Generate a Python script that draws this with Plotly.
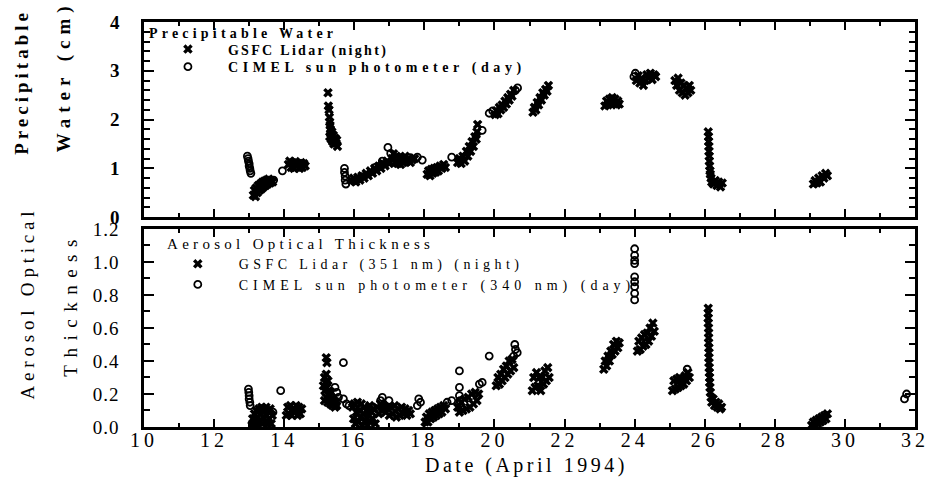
import plotly.graph_objects as go

# ---------------- data ----------------
# Precipitable water (cm): GSFC lidar, night
lidar_pw = [
    (13.12, 0.45), (13.15, 0.55), (13.18, 0.42), (13.2, 0.6), (13.23, 0.5), (13.26, 0.65), (13.29, 0.55),
    (13.32, 0.68), (13.35, 0.58), (13.38, 0.72), (13.41, 0.62), (13.44, 0.74), (13.47, 0.65), (13.5, 0.76),
    (13.53, 0.68), (13.56, 0.78), (13.6, 0.7), (13.63, 0.74), (13.67, 0.72),
    (14.12, 1.08), (14.16, 1.15), (14.2, 1.02), (14.24, 1.12), (14.28, 1.0), (14.32, 1.14), (14.36, 1.04),
    (14.4, 1.1), (14.44, 1.0), (14.48, 1.12), (14.52, 1.02), (14.56, 1.1), (14.6, 1.05),
    (15.25, 2.55), (15.26, 2.28), (15.28, 2.2), (15.29, 2.05), (15.3, 1.95), (15.31, 1.88), (15.32, 1.8),
    (15.33, 1.72), (15.3, 1.65), (15.34, 1.6), (15.36, 1.75), (15.38, 1.55), (15.4, 1.68), (15.42, 1.5),
    (15.45, 1.62), (15.48, 1.52), (15.5, 1.58), (15.52, 1.45),
    (15.92, 0.75), (15.98, 0.8), (16.04, 0.72), (16.1, 0.82), (16.16, 0.76), (16.22, 0.85), (16.28, 0.8),
    (16.34, 0.9), (16.4, 0.85), (16.46, 0.95), (16.52, 0.9), (16.58, 1.0), (16.64, 0.95), (16.7, 1.05),
    (16.76, 1.0), (16.82, 1.1), (16.88, 1.05), (16.94, 1.15), (17.0, 1.1),
    (17.08, 1.2), (17.12, 1.3), (17.16, 1.12), (17.2, 1.25), (17.24, 1.1), (17.28, 1.22), (17.32, 1.08),
    (17.36, 1.2), (17.4, 1.12), (17.45, 1.25), (17.5, 1.15), (17.55, 1.2), (17.6, 1.12), (17.66, 1.18),
    (17.72, 1.2),
    (18.08, 0.88), (18.12, 0.95), (18.16, 0.85), (18.2, 0.98), (18.24, 0.9), (18.28, 1.0), (18.32, 0.92),
    (18.36, 1.02), (18.4, 0.95), (18.45, 1.05), (18.5, 1.0), (18.55, 1.08), (18.6, 1.02),
    (18.95, 1.12), (19.0, 1.2), (19.05, 1.1), (19.1, 1.25), (19.15, 1.15), (19.2, 1.35), (19.24, 1.25),
    (19.28, 1.45), (19.32, 1.35), (19.36, 1.55), (19.4, 1.45), (19.44, 1.65), (19.48, 1.6), (19.5, 1.75),
    (19.52, 1.9),
    (20.02, 2.1), (20.06, 2.18), (20.1, 2.12), (20.14, 2.25), (20.18, 2.2), (20.22, 2.3), (20.26, 2.25),
    (20.3, 2.38), (20.34, 2.32), (20.38, 2.45), (20.42, 2.4), (20.46, 2.52), (20.5, 2.48), (20.55, 2.6),
    (21.1, 2.15), (21.14, 2.25), (21.18, 2.2), (21.22, 2.35), (21.26, 2.3), (21.3, 2.45), (21.34, 2.4),
    (21.38, 2.55), (21.42, 2.5), (21.46, 2.62), (21.5, 2.58), (21.54, 2.7),
    (23.15, 2.28), (23.2, 2.38), (23.24, 2.3), (23.28, 2.42), (23.32, 2.33), (23.36, 2.45), (23.4, 2.35),
    (23.44, 2.42), (23.48, 2.3), (23.52, 2.38), (23.56, 2.32),
    (24.05, 2.8), (24.1, 2.9), (24.15, 2.75), (24.2, 2.85), (24.25, 2.7), (24.3, 2.8), (24.35, 2.92),
    (24.4, 2.85), (24.45, 2.95), (24.5, 2.82), (24.55, 2.92), (24.6, 2.88),
    (25.15, 2.8), (25.2, 2.7), (25.24, 2.85), (25.28, 2.6), (25.32, 2.75), (25.36, 2.55), (25.4, 2.7),
    (25.44, 2.5), (25.48, 2.65), (25.52, 2.55), (25.56, 2.7), (25.6, 2.6),
    (26.1, 1.75), (26.11, 1.65), (26.11, 1.55), (26.12, 1.45), (26.12, 1.35), (26.13, 1.25), (26.13, 1.15),
    (26.14, 1.05), (26.15, 0.95), (26.16, 0.88), (26.18, 0.8), (26.2, 0.72), (26.25, 0.68), (26.3, 0.75),
    (26.35, 0.65), (26.4, 0.72), (26.45, 0.62), (26.5, 0.7),
    (29.1, 0.68), (29.15, 0.75), (29.2, 0.7), (29.25, 0.8), (29.3, 0.72), (29.35, 0.85), (29.4, 0.8),
    (29.45, 0.9), (29.5, 0.85),
]

# Precipitable water (cm): CIMEL sun photometer, day
cimel_pw = [
    (12.95, 1.25), (12.97, 1.2), (12.98, 1.15), (13.0, 1.1), (13.0, 1.05), (13.02, 1.0), (13.03, 0.95),
    (13.05, 0.9), (13.7, 0.76), (13.95, 0.95),
    (15.72, 1.0), (15.72, 0.92), (15.74, 0.84), (15.74, 0.76), (15.76, 0.68),
    (15.98, 0.74), (16.1, 0.77), (16.2, 0.83), (16.6, 1.02), (16.7, 1.04), (16.8, 1.15), (16.9, 1.12),
    (16.96, 1.43), (17.04, 1.31), (17.45, 1.18), (17.6, 1.22), (17.8, 1.23), (17.94, 1.17),
    (18.78, 1.23), (19.0, 1.17), (19.65, 1.78), (19.85, 2.13), (19.95, 2.18), (20.6, 2.6), (20.66, 2.65),
    (23.98, 2.88), (24.02, 2.95),
]

# Aerosol optical thickness: GSFC lidar (351 nm), night
lidar_aot = [
    (13.08, 0.01), (13.1, 0.05), (13.13, 0.02), (13.15, 0.08), (13.18, 0.04), (13.2, 0.1), (13.23, 0.01),
    (13.25, 0.06), (13.28, 0.11), (13.3, 0.03), (13.33, 0.08), (13.36, 0.12), (13.38, 0.02), (13.4, 0.06),
    (13.43, 0.1), (13.46, 0.03), (13.48, 0.12), (13.5, 0.07), (13.53, 0.02), (13.55, 0.1), (13.58, 0.05),
    (13.6, 0.11), (13.63, 0.02), (13.66, 0.07),
    (14.06, 0.07), (14.1, 0.12), (14.14, 0.08), (14.18, 0.13), (14.22, 0.07), (14.26, 0.11), (14.3, 0.09),
    (14.34, 0.13), (14.38, 0.07), (14.42, 0.12), (14.46, 0.08), (14.5, 0.11),
    (15.2, 0.42), (15.22, 0.39), (15.15, 0.3), (15.18, 0.27), (15.2, 0.32), (15.22, 0.24), (15.16, 0.22),
    (15.25, 0.28), (15.2, 0.18), (15.28, 0.22), (15.24, 0.15), (15.3, 0.19), (15.32, 0.14), (15.36, 0.17),
    (15.38, 0.13), (15.42, 0.16), (15.45, 0.12), (15.48, 0.15), (15.5, 0.13), (15.12, 0.25), (15.15, 0.16),
    (15.26, 0.2), (15.34, 0.21),
    (15.95, 0.12), (15.98, 0.05), (16.0, 0.14), (16.03, 0.02), (16.06, 0.09), (16.09, 0.15), (16.12, 0.03),
    (16.15, 0.1), (16.18, 0.06), (16.2, 0.14), (16.23, 0.01), (16.26, 0.08), (16.29, 0.12), (16.32, 0.04),
    (16.35, 0.1), (16.38, 0.01), (16.41, 0.07), (16.44, 0.13), (16.47, 0.03), (16.5, 0.09), (16.53, 0.05),
    (16.56, 0.11), (16.6, 0.02),
    (16.65, 0.12), (16.7, 0.08), (16.75, 0.14), (16.8, 0.1), (16.85, 0.13), (16.9, 0.09), (16.95, 0.12),
    (17.0, 0.07), (17.05, 0.12), (17.1, 0.08), (17.15, 0.13), (17.2, 0.06), (17.25, 0.11), (17.3, 0.07),
    (17.35, 0.12), (17.4, 0.08), (17.45, 0.11), (17.5, 0.07), (17.55, 0.1), (17.6, 0.08),
    (18.02, 0.03), (18.06, 0.06), (18.1, 0.03), (18.14, 0.08), (18.18, 0.05), (18.22, 0.09), (18.26, 0.06),
    (18.3, 0.1), (18.34, 0.07), (18.38, 0.11), (18.42, 0.08), (18.46, 0.12), (18.5, 0.09), (18.55, 0.13),
    (18.6, 0.11),
    (18.95, 0.12), (19.0, 0.09), (19.05, 0.15), (19.1, 0.1), (19.15, 0.17), (19.2, 0.11), (19.25, 0.18),
    (19.3, 0.12), (19.35, 0.2), (19.4, 0.14), (19.45, 0.21), (19.5, 0.16), (19.55, 0.2),
    (20.05, 0.25), (20.1, 0.3), (20.14, 0.26), (20.18, 0.32), (20.22, 0.28), (20.26, 0.35), (20.3, 0.3),
    (20.34, 0.37), (20.38, 0.32), (20.42, 0.4), (20.46, 0.34), (20.5, 0.41), (20.55, 0.36),
    (21.08, 0.22), (21.12, 0.3), (21.16, 0.24), (21.2, 0.33), (21.24, 0.25), (21.28, 0.3), (21.32, 0.22),
    (21.36, 0.3), (21.4, 0.26), (21.44, 0.34), (21.48, 0.28), (21.52, 0.36), (21.56, 0.3),
    (23.12, 0.35), (23.16, 0.4), (23.2, 0.37), (23.24, 0.43), (23.28, 0.4), (23.32, 0.46), (23.36, 0.44),
    (23.4, 0.5), (23.44, 0.46), (23.48, 0.52), (23.52, 0.48), (23.56, 0.51),
    (24.08, 0.46), (24.12, 0.52), (24.16, 0.47), (24.2, 0.54), (24.24, 0.49), (24.28, 0.56), (24.32, 0.5),
    (24.36, 0.57), (24.4, 0.52), (24.44, 0.6), (24.48, 0.55), (24.52, 0.63), (24.56, 0.58),
    (25.08, 0.22), (25.12, 0.28), (25.16, 0.23), (25.2, 0.29), (25.24, 0.24), (25.28, 0.3), (25.32, 0.25),
    (25.36, 0.29), (25.4, 0.26), (25.44, 0.31), (25.48, 0.28), (25.52, 0.33), (25.56, 0.3),
    (26.1, 0.72), (26.1, 0.69), (26.1, 0.66), (26.1, 0.63), (26.11, 0.6), (26.11, 0.57), (26.11, 0.54),
    (26.11, 0.51), (26.12, 0.48), (26.12, 0.45), (26.12, 0.42), (26.12, 0.39), (26.13, 0.36), (26.13, 0.33),
    (26.14, 0.3), (26.14, 0.27), (26.15, 0.24), (26.16, 0.21), (26.18, 0.18), (26.2, 0.15), (26.24, 0.17),
    (26.28, 0.13), (26.32, 0.15), (26.36, 0.12), (26.4, 0.14), (26.44, 0.11), (26.48, 0.12),
    (29.05, 0.01), (29.1, 0.03), (29.14, 0.01), (29.18, 0.04), (29.22, 0.02), (29.26, 0.05), (29.3, 0.03),
    (29.34, 0.06), (29.38, 0.04), (29.42, 0.07), (29.46, 0.05), (29.5, 0.08),
]

# Aerosol optical thickness: CIMEL sun photometer (340 nm), day
cimel_aot = [
    (12.98, 0.23), (12.99, 0.21), (13.0, 0.19), (13.0, 0.17), (13.02, 0.15), (13.03, 0.13),
    (13.68, 0.09), (13.9, 0.22),
    (15.69, 0.39), (15.45, 0.24), (15.5, 0.21), (15.55, 0.18), (15.69, 0.17), (15.78, 0.14), (15.85, 0.13),
    (16.5, 0.12), (16.75, 0.16), (16.8, 0.18), (16.85, 0.13), (16.99, 0.16),
    (17.8, 0.13), (17.84, 0.17), (17.89, 0.15),
    (18.65, 0.15), (18.78, 0.16),
    (19.0, 0.34), (19.0, 0.24), (19.0, 0.19), (19.02, 0.16), (19.0, 0.14), (19.57, 0.26), (19.65, 0.27),
    (19.85, 0.43),
    (20.58, 0.5), (20.6, 0.47), (20.65, 0.45), (20.55, 0.43),
    (23.27, 0.42),
    (24.0, 1.08), (24.0, 1.04), (24.0, 1.01), (24.0, 0.99), (24.0, 0.91), (24.0, 0.88), (24.0, 0.85),
    (24.0, 0.81), (24.0, 0.77),
    (25.5, 0.35),
    (31.7, 0.17), (31.76, 0.2),
]

x_tick_vals = [10, 12, 14, 16, 18, 20, 22, 24, 26, 28, 30, 32]
pw_tick_vals = [0, 1, 2, 3, 4]
aot_tick_vals = [0.0, 0.2, 0.4, 0.6, 0.8, 1.0, 1.2]

# ---------------- styling ----------------
SERIF = "Liberation Serif, Times New Roman, serif"


def sp(text, px):
    return f'<span style="letter-spacing:{px}px">{text}</span>'


def xs(pts):
    return [p[0] for p in pts]


def ys(pts):
    return [p[1] for p in pts]


def py(pixel):
    # pixel row -> paper fraction (plot area spans rows 14..427)
    return (427 - pixel) / 413


def px(pixel):
    # pixel column -> paper fraction (plot area spans columns 144..928)
    return (pixel - 144) / 784


x_mark = dict(symbol="x", size=8.5, color="black", line=dict(width=0))
o_mark = dict(symbol="circle-open", size=7, color="black", line=dict(width=1.8, color="black"))

fig = go.Figure()
fig.add_trace(go.Scatter(x=xs(lidar_pw), y=ys(lidar_pw), mode="markers", marker=x_mark,
                         name=sp("GSFC Lidar (night)", 2.3), xaxis="x", yaxis="y", legend="legend"))
fig.add_trace(go.Scatter(x=xs(cimel_pw), y=ys(cimel_pw), mode="markers", marker=o_mark,
                         name=sp("CIMEL sun photometer (day)", 4.6), xaxis="x", yaxis="y", legend="legend2"))
fig.add_trace(go.Scatter(x=xs(lidar_aot), y=ys(lidar_aot), mode="markers", marker=x_mark,
                         name=sp("GSFC Lidar (351 nm) (night)", 4.4), xaxis="x2", yaxis="y2", legend="legend3"))
fig.add_trace(go.Scatter(x=xs(cimel_aot), y=ys(cimel_aot), mode="markers", marker=o_mark,
                         name=sp("CIMEL sun photometer (340 nm) (day)", 5.0), xaxis="x2", yaxis="y2",
                         legend="legend4"))

axis_common = dict(showline=True, linewidth=2.5, linecolor="black", mirror="allticks",
                   ticks="inside", tickwidth=2, tickcolor="black", showgrid=False, zeroline=False)


def leg(xpix, ypix, itemwidth, weight):
    return dict(x=px(xpix), y=py(ypix), xanchor="left", yanchor="middle", bgcolor="rgba(0,0,0,0)",
                borderwidth=0, itemwidth=itemwidth, font=dict(size=14, weight=weight), tracegroupgap=0)


fig.update_layout(
    width=941, height=482,
    margin=dict(l=144, r=13, t=14, b=55),
    paper_bgcolor="white", plot_bgcolor="white",
    font=dict(family=SERIF, color="black", size=16),
    xaxis=dict(**axis_common, domain=[0, 1], range=[10, 32], anchor="y", tickvals=x_tick_vals,
               ticklen=8, showticklabels=False,
               minor=dict(dtick=1, tick0=10, ticklen=4, tickwidth=2, ticks="inside", tickcolor="black")),
    yaxis=dict(**axis_common, domain=[0.518, 1], range=[0, 4], anchor="x", tickvals=pw_tick_vals,
               ticktext=[str(v) for v in pw_tick_vals], ticklen=10, ticklabelstandoff=18,
               tickfont=dict(size=19, weight="bold"),
               minor=dict(dtick=0.2, tick0=0, ticklen=6, tickwidth=2, ticks="inside", tickcolor="black")),
    xaxis2=dict(**axis_common, domain=[0, 1], range=[10, 32], anchor="y2", tickvals=x_tick_vals,
                ticktext=[sp(str(v), 4) for v in x_tick_vals], ticklen=8, tickfont=dict(size=20),
                ticklabelstandoff=-7,
                minor=dict(dtick=1, tick0=10, ticklen=4, tickwidth=2, ticks="inside", tickcolor="black")),
    yaxis2=dict(**axis_common, domain=[0, 0.489], range=[0, 1.2], anchor="x2", tickvals=aot_tick_vals,
                ticktext=[sp(f"{v:.1f}", 1) for v in aot_tick_vals], ticklen=10, ticklabelstandoff=18,
                tickfont=dict(size=19),
                minor=dict(dtick=0.1, tick0=0, ticklen=6, tickwidth=2, ticks="inside", tickcolor="black")),
    legend=leg(148, 42, 70, "bold"),
    legend2=leg(148, 60, 70, "bold"),
    legend3=leg(157, 261, 72, "normal"),
    legend4=leg(157, 282, 72, "normal"),
    showlegend=True,
)

annotations = [
    dict(text=sp("Precipitable Water", 4.2), x=px(147), y=py(26), xanchor="left", yanchor="middle",
         font=dict(size=14, weight="bold")),
    dict(text=sp("Aerosol Optical Thickness", 4.3), x=px(165), y=py(240), xanchor="left", yanchor="middle",
         font=dict(size=15)),
    dict(text=sp("Precipitable", 4), x=px(20), y=py(75), textangle=-90,
         font=dict(size=19, weight="bold")),
    dict(text=sp("Water (cm)", 6), x=px(63), y=py(69), textangle=-90,
         font=dict(size=19, weight="bold")),
    dict(text=sp("Aerosol Optical", 4.8), x=px(25), y=py(300), textangle=-90,
         font=dict(size=19)),
    dict(text=sp("Thickness", 7.5), x=px(69), y=py(302), textangle=-90, font=dict(size=19)),
    dict(text=sp("Date (April 1994)", 3.5), x=px(533), y=py(466), font=dict(size=20)),
]
for a in annotations:
    a.update(xref="paper", yref="paper", showarrow=False, xanchor=a.get("xanchor", "center"),
             yanchor=a.get("yanchor", "middle"))
fig.update_layout(annotations=annotations)

fig.write_html("out.html")
